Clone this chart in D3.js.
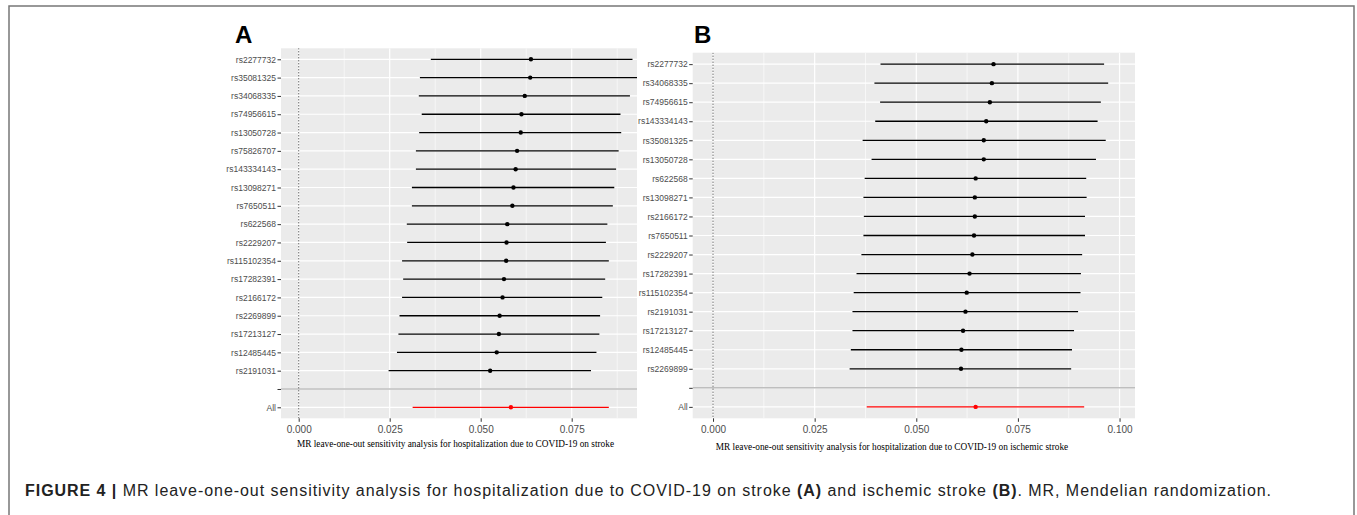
<!DOCTYPE html>
<html>
<head>
<meta charset="utf-8">
<script src="https://cdn.jsdelivr.net/npm/d3@7"></script>
<style>
  body { margin: 0; background: #fff; }
  svg { display: block; }
</style>
</head>
<body>
<div id="chart"></div>
<script>
// panel A: hospitalization due to COVID-19 on stroke
const snpsA = ['rs2277732', 'rs35081325', 'rs34068335', 'rs74956615', 'rs13050728', 'rs75826707',
    'rs143334143', 'rs13098271', 'rs7650511', 'rs622568', 'rs2229207', 'rs115102354',
    'rs17282391', 'rs2166172', 'rs2269899', 'rs17213127', 'rs12485445', 'rs2191031'];
const estA = [0.0638, 0.0636, 0.0621, 0.0612, 0.0610, 0.0600, 0.0596, 0.0590, 0.0587, 0.0573,
    0.0571, 0.0570, 0.0564, 0.0560, 0.0552, 0.0550, 0.0544, 0.0526];
const loA = [0.0363, 0.0333, 0.0330, 0.0338, 0.0331, 0.0322, 0.0322, 0.0311, 0.0311, 0.0297,
    0.0298, 0.0284, 0.0287, 0.0284, 0.0277, 0.0274, 0.0270, 0.0247];
const hiA = [0.0917, 0.0940, 0.0910, 0.0884, 0.0886, 0.0879, 0.0872, 0.0867, 0.0863, 0.0848,
    0.0844, 0.0852, 0.0842, 0.0834, 0.0828, 0.0826, 0.0818, 0.0803];
const allA = { est: 0.0583, lo: 0.0313, hi: 0.0852 };
const ticksA = [0, 0.025, 0.05, 0.075];

// panel B: hospitalization due to COVID-19 on ischemic stroke
const snpsB = ['rs2277732', 'rs34068335', 'rs74956615', 'rs143334143', 'rs35081325', 'rs13050728',
    'rs622568', 'rs13098271', 'rs2166172', 'rs7650511', 'rs2229207', 'rs17282391',
    'rs115102354', 'rs2191031', 'rs17213127', 'rs12485445', 'rs2269899'];
const estB = [0.0690, 0.0686, 0.0681, 0.0672, 0.0666, 0.0666, 0.0646, 0.0644, 0.0644, 0.0642,
    0.0638, 0.0631, 0.0624, 0.0621, 0.0615, 0.0611, 0.0610];
const loB = [0.0412, 0.0397, 0.0411, 0.0399, 0.0368, 0.0390, 0.0373, 0.0370, 0.0371, 0.0370,
    0.0365, 0.0353, 0.0346, 0.0343, 0.0343, 0.0339, 0.0336];
const hiB = [0.0962, 0.0972, 0.0954, 0.0946, 0.0966, 0.0942, 0.0918, 0.0919, 0.0915, 0.0915,
    0.0908, 0.0905, 0.0904, 0.0898, 0.0888, 0.0883, 0.0881];
const allB = { est: 0.0646, lo: 0.0378, hi: 0.0913 };
const ticksB = [0, 0.025, 0.05, 0.075, 0.1];

const CONFIG = {
    WIDTH: 1357,
    HEIGHT: 515,
    PANEL_BG: '#ebebeb',
    TEXT_GREY: '#4d4d4d',
    TICK_GREY: '#333333',
    CAPTION_WIDTH: 1247
};

const svg = d3.select('#chart').append('svg')
    .attr('width', CONFIG.WIDTH)
    .attr('height', CONFIG.HEIGHT);

// outer frame of the figure
svg.append('path')
    .attr('d', 'M9,530 V6 H1354 V530')
    .attr('fill', 'none')
    .attr('stroke', '#777')
    .attr('stroke-width', 1.5);

function drawPanel(opts) {
    const rows = opts.snps.map((s, i) => ({ snp: s, est: opts.est[i], lo: opts.lo[i], hi: opts.hi[i], all: false }));
    rows.push({ snp: 'All', est: opts.all.est, lo: opts.all.lo, hi: opts.all.hi, all: true });
    const cats = opts.snps.concat([' ', 'All']);

    const x = d3.scaleLinear().domain(opts.xDomain).range([opts.left, opts.right]);
    const y = d3.scalePoint().domain(cats).range([opts.top, opts.bottom]).padding(0.6);

    const g = svg.append('g');
    const clipId = 'clip-' + opts.name;
    g.append('clipPath').attr('id', clipId).append('rect')
        .attr('x', opts.left).attr('y', opts.top)
        .attr('width', opts.right - opts.left).attr('height', opts.bottom - opts.top);

    g.append('rect')
        .attr('x', opts.left).attr('y', opts.top)
        .attr('width', opts.right - opts.left).attr('height', opts.bottom - opts.top)
        .attr('fill', CONFIG.PANEL_BG);

    const inner = g.append('g').attr('clip-path', 'url(#' + clipId + ')');

    // minor grid
    const minor = opts.ticks.slice(0, -1).map((t, i) => (t + opts.ticks[i + 1]) / 2)
        .concat([opts.ticks[opts.ticks.length - 1] + 0.0125]);
    inner.selectAll('.minor').data(minor).enter().append('line')
        .attr('x1', d => x(d)).attr('x2', d => x(d))
        .attr('y1', opts.top).attr('y2', opts.bottom)
        .attr('stroke', '#fff').attr('stroke-width', 0.6);

    // major grid
    inner.selectAll('.majx').data(opts.ticks).enter().append('line')
        .attr('x1', d => x(d)).attr('x2', d => x(d))
        .attr('y1', opts.top).attr('y2', opts.bottom)
        .attr('stroke', '#fff').attr('stroke-width', 1.2);
    inner.selectAll('.majy').data(cats).enter().append('line')
        .attr('x1', opts.left).attr('x2', opts.right)
        .attr('y1', d => y(d)).attr('y2', d => y(d))
        .attr('stroke', '#fff').attr('stroke-width', 1.2);

    // separator before "All"
    inner.append('line')
        .attr('x1', opts.left).attr('x2', opts.right)
        .attr('y1', y(' ')).attr('y2', y(' '))
        .attr('stroke', '#bebebe').attr('stroke-width', 1.5);

    // dotted null line
    inner.append('line')
        .attr('x1', x(0)).attr('x2', x(0))
        .attr('y1', opts.top).attr('y2', opts.bottom)
        .attr('stroke', '#000').attr('stroke-width', 0.8)
        .attr('stroke-dasharray', '1,2');

    inner.selectAll('.ci').data(rows).enter().append('line')
        .attr('x1', d => x(d.lo)).attr('x2', d => x(d.hi))
        .attr('y1', d => y(d.snp)).attr('y2', d => y(d.snp))
        .attr('stroke', d => d.all ? '#ff0000' : '#000')
        .attr('stroke-width', 1.3);

    inner.selectAll('.pt').data(rows).enter().append('circle')
        .attr('cx', d => x(d.est)).attr('cy', d => y(d.snp))
        .attr('r', 2.2)
        .attr('fill', d => d.all ? '#ff0000' : '#000');

    // axes
    const yAxis = g.append('g')
        .attr('transform', 'translate(' + opts.left + ',0)')
        .call(d3.axisLeft(y).tickSize(3.5).tickPadding(1.5));
    const xAxis = g.append('g')
        .attr('transform', 'translate(0,' + opts.bottom + ')')
        .call(d3.axisBottom(x).tickValues(opts.ticks).tickFormat(d3.format('.3f')).tickSize(3.5).tickPadding(4));
    [xAxis, yAxis].forEach(ax => {
        ax.select('.domain').remove();
        ax.selectAll('line').attr('stroke', CONFIG.TICK_GREY);
        ax.selectAll('text').attr('fill', CONFIG.TEXT_GREY).style('font-family', 'Liberation Sans, Arial, sans-serif');
    });
    yAxis.selectAll('text').style('font-size', '8.5px');
    xAxis.selectAll('text').style('font-size', '10px');

    g.append('text')
        .attr('x', opts.titleX).attr('y', opts.titleY)
        .attr('text-anchor', 'middle')
        .style('font-family', 'Liberation Serif, Times New Roman, serif')
        .style('font-size', '9.3px')
        .attr('fill', '#000')
        .text(opts.title);

    g.append('text')
        .attr('x', opts.labelX).attr('y', opts.labelY)
        .style('font-family', 'Liberation Sans, Arial, sans-serif')
        .style('font-weight', 'bold')
        .style('font-size', '24px')
        .attr('fill', '#000')
        .text(opts.name);
}

drawPanel({
    name: 'A', snps: snpsA, est: estA, lo: loA, hi: hiA, all: allA, ticks: ticksA,
    xDomain: [-0.00486, 0.09294], left: 281, right: 637, top: 48.3, bottom: 418.3,
    title: 'MR leave-one-out sensitivity analysis for hospitalization due to COVID-19 on stroke',
    titleX: 455.5, titleY: 447, labelX: 235, labelY: 42.5
});

drawPanel({
    name: 'B', snps: snpsB, est: estB, lo: loB, hi: hiB, all: allB, ticks: ticksB,
    xDomain: [-0.0050, 0.1038], left: 692.7, right: 1135, top: 52.7, bottom: 418.3,
    title: 'MR leave-one-out sensitivity analysis for hospitalization due to COVID-19 on ischemic stroke',
    titleX: 892, titleY: 450, labelX: 694, labelY: 42.5
});

// caption
const cap = svg.append('text')
    .attr('x', 25).attr('y', 496)
    .style('font-family', 'Liberation Sans, Arial, sans-serif')
    .style('font-size', '16px')
    .attr('fill', '#222');
const capParts = [['FIGURE 4 | ', true], ['MR leave-one-out sensitivity analysis for hospitalization due to COVID-19 on stroke ', false],
    ['(A)', true], [' and ischemic stroke ', false], ['(B)', true], ['. MR, Mendelian randomization.', false]];
capParts.forEach(p => {
    cap.append('tspan').style('font-weight', p[1] ? 'bold' : 'normal').text(p[0]);
});
// spread the caption to the width it has in the original figure
const capChars = capParts.map(p => p[0]).join('').length;
const capLen = cap.node().getComputedTextLength();
cap.style('letter-spacing', ((CONFIG.CAPTION_WIDTH - capLen) / capChars) + 'px');
</script>
</body>
</html>
